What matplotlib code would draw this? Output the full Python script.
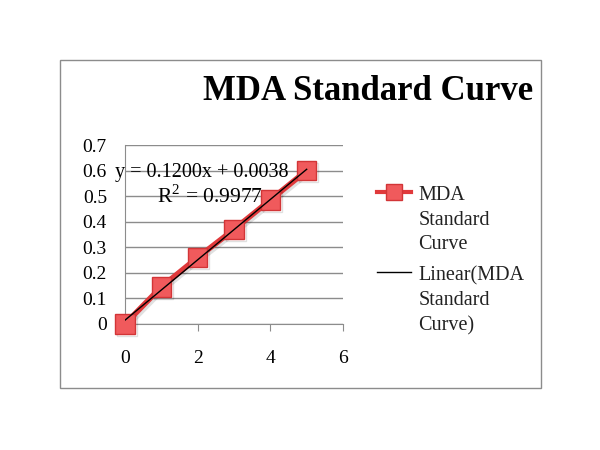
import numpy as np
import matplotlib.pyplot as plt
import matplotlib.patheffects as pe
from matplotlib.patches import Rectangle

# data
conc = [0, 1, 2, 3, 4, 5]
absorb = [0.0, 0.145, 0.26, 0.37, 0.485, 0.6]
x_ticks = [0, 2, 4, 6]
y_ticks = [0, 0.1, 0.2, 0.3, 0.4, 0.5, 0.6, 0.7]
eq_text = "y = 0.1200x + 0.0038"
r2_text = "R$^2$ = 0.9977"

plt.rcParams['font.family'] = ['Liberation Serif', 'DejaVu Serif']
plt.rcParams['mathtext.fontset'] = 'custom'
plt.rcParams['mathtext.rm'] = 'Liberation Serif'

fig = plt.figure(figsize=(6, 4.5), dpi=100)
fig.patches.append(Rectangle((60 / 600, 1 - 388 / 450), 481 / 600, 328 / 450,
                             transform=fig.transFigure, fill=False,
                             edgecolor='#8c8c8c', linewidth=1))

ax = fig.add_axes([125 / 600, 1 - 324 / 450, 218 / 600, 179 / 450])

# series with softly shadowed squares
shadow = [pe.SimpleLineShadow(offset=(1.5, -1.5), alpha=0.12, shadow_color='black'),
          pe.Normal()]
ax.plot(conc, absorb, color='#e0393b', linewidth=4, marker='s', markersize=14,
        markerfacecolor='#f05a5c', markeredgecolor='#d23537', markeredgewidth=1,
        label='MDA\nStandard\nCurve', path_effects=shadow, zorder=3, clip_on=False)

# linear trendline
slope, icpt = np.polyfit(conc, absorb, 1)
xl = np.array([conc[0], conc[-1]])
ax.plot(xl, slope * xl + icpt, color='black', linewidth=1,
        label='Linear(MDA\nStandard\nCurve)', zorder=4)

ax.set_xlim(0, 6)
ax.set_ylim(0, 0.7)
ax.set_xticks(x_ticks)
ax.set_yticks(y_ticks)
ax.set_xticklabels([str(t) for t in x_ticks])
ax.set_yticklabels(['0' if t == 0 else f'{t:.1f}' for t in y_ticks])
ax.tick_params(axis='both', labelsize=14, colors='#8c8c8c', labelcolor='black')
ax.tick_params(axis='x', length=5, pad=14)
ax.tick_params(axis='y', length=0, pad=13)
ax.grid(axis='y', color='#8c8c8c', linewidth=1)
ax.set_axisbelow(True)
for s in ['top', 'right']:
    ax.spines[s].set_visible(False)
for s in ['left', 'bottom']:
    ax.spines[s].set_color('#8c8c8c')

ax.text(2.1, 0.594, eq_text, fontsize=14.5, ha='center', va='center', zorder=5)
ax.text(2.33, 0.497, r2_text, fontsize=15.5, ha='center', va='center', zorder=5)

fig.text(533 / 600, 1 - 91 / 450, 'MDA Standard Curve', fontsize=25,
         fontweight='bold', ha='right', va='center')

fs = 14.5
leg = ax.legend(loc='upper left', bbox_to_anchor=(377 / 600, 1 - 186 / 450),
                bbox_transform=fig.transFigure, borderaxespad=0, borderpad=0,
                frameon=False, fontsize=fs, handlelength=1.7, handletextpad=0.35,
                labelspacing=0.6, markerscale=0.8)
for t in leg.get_texts():
    t.set_color('#222222')
    t.set_linespacing(1.4)
# put each handle level with the first line of its label
for h in leg.legend_handles:
    h.set_ydata(np.asarray(h.get_ydata()) + 1.4 * fs)
    if h.get_linewidth() > 2:
        h.set_linewidth(3)
        h.set_path_effects([])

fig.savefig('out.png', dpi=100)
